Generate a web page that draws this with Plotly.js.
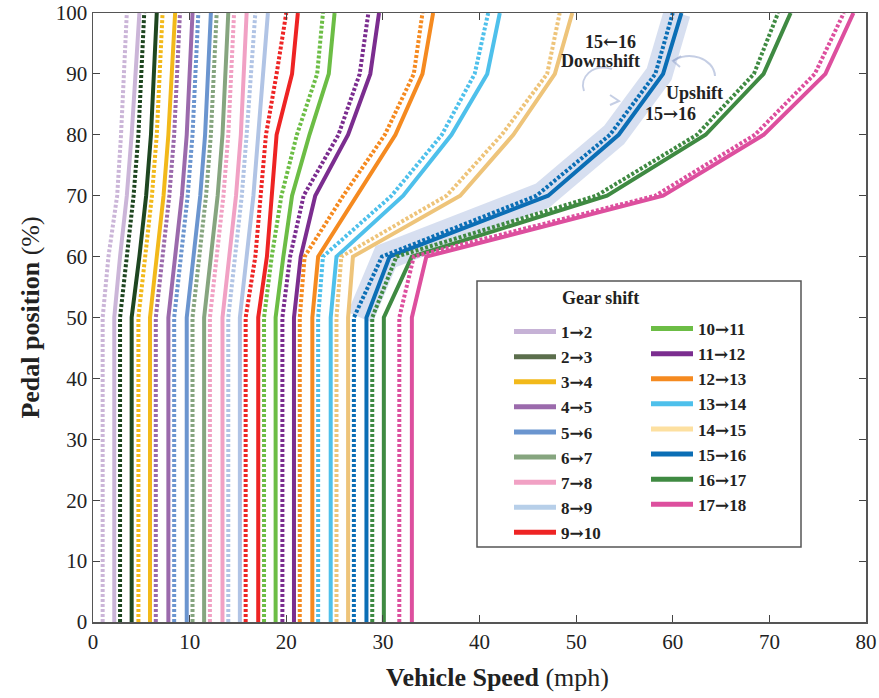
<!DOCTYPE html>
<html>
<head>
<meta charset="utf-8">
<script src="https://cdn.plot.ly/plotly-3.0.1.min.js"></script>
<style>body{margin:0;background:#fff}#chart{width:879px;height:698px}</style>
</head>
<body>
<div id="chart"></div>
<script>
// Pedal position breakpoints (%)
const pedal = [0, 50, 60, 70, 80, 90, 100];
const shiftFrom = [1,2,3,4,5,6,7,8,9,10,11,12,13,14,15,16,17];
const shiftTo   = [2,3,4,5,6,7,8,9,10,11,12,13,14,15,16,17,18];
// Upshift speeds (mph) at each pedal breakpoint (solid lines)
const upshift = [
  [2.2, 2.2, 2.8, 3.5, 4.0, 4.4, 4.8],
  [4.0, 4.0, 4.8, 5.5, 6.0, 6.3, 6.6],
  [5.9, 5.9, 6.6, 7.3, 7.8, 8.2, 8.5],
  [7.8, 7.8, 8.5, 9.2, 9.7, 10.0, 10.3],
  [9.7, 9.7, 10.4, 11.1, 11.6, 11.9, 12.2],
  [11.5, 11.5, 12.2, 12.9, 13.4, 13.7, 14.0],
  [13.4, 13.4, 14.1, 14.8, 15.3, 15.6, 15.9],
  [15.2, 15.2, 15.9, 16.6, 17.1, 17.6, 18.1],
  [17.1, 17.1, 18.0, 18.5, 19.0, 20.6, 21.2],
  [18.9, 18.9, 19.7, 20.6, 22.4, 24.4, 25.0],
  [20.8, 20.8, 21.5, 23.0, 26.4, 28.7, 29.6],
  [22.7, 22.7, 23.3, 27.3, 31.3, 34.1, 35.2],
  [24.6, 24.6, 25.2, 32.1, 37.1, 40.8, 42.1],
  [26.4, 26.4, 26.9, 38.0, 43.5, 47.8, 49.6],
  [28.3, 28.3, 30.7, 47.1, 54.4, 59.0, 60.9],
  [30.1, 30.1, 33.0, 53.2, 63.4, 69.4, 72.2],
  [33.0, 33.0, 34.5, 59.0, 69.4, 75.8, 78.7]
];
// Downshift speeds (mph) at each pedal breakpoint (dotted lines)
const downshift = [
  [1.0, 1.0, 1.6, 2.5, 2.9, 3.2, 3.5],
  [2.8, 2.8, 3.5, 4.2, 4.7, 5.0, 5.3],
  [4.7, 4.7, 5.4, 6.1, 6.6, 6.9, 7.2],
  [6.5, 6.5, 7.2, 7.9, 8.4, 8.7, 9.0],
  [8.4, 8.4, 9.1, 9.8, 10.3, 10.6, 10.9],
  [10.3, 10.3, 11.0, 11.7, 12.2, 12.5, 12.8],
  [12.1, 12.1, 12.8, 13.5, 14.0, 14.3, 14.6],
  [14.0, 14.0, 14.7, 15.4, 15.9, 16.4, 16.8],
  [15.8, 15.8, 16.8, 17.3, 17.9, 19.0, 20.0],
  [17.7, 17.7, 18.5, 19.5, 21.1, 23.2, 23.8],
  [19.6, 19.6, 20.4, 21.8, 25.4, 27.6, 28.5],
  [21.4, 21.4, 21.9, 25.9, 30.2, 33.2, 34.1],
  [23.3, 23.3, 23.8, 30.9, 36.1, 39.5, 40.9],
  [25.2, 25.2, 25.7, 36.6, 42.3, 47.0, 48.3],
  [27.0, 27.0, 29.9, 45.9, 53.5, 58.2, 60.0],
  [28.9, 28.9, 31.4, 52.1, 62.5, 68.4, 70.9],
  [31.7, 31.7, 33.2, 58.2, 68.5, 74.7, 77.7]
];
const highlightIndex = 14; // 15→16 highlighted

// Styles
const lineColors = ['#cbb5d8','#1e4620','#f2b91a','#9b6aac','#6b95cf','#86a57f','#f1a1c4','#b1c4e5','#ee2424',
                    '#6cbd45','#7b2d8f','#f58a20','#4ec0eb','#eec47a','#0b6eb5','#3f8a42','#dd4f9e'];
const legendColors = ['#c6b2d6','#5b6e4c','#f2b91a','#9b6aac','#6b95cf','#86a57f','#f1a1c4','#b7cfe9','#ee2424',
                      '#6cbd45','#7b2d8f','#f58a20','#4ec0eb','#fde0a0','#0b6eb5','#3f8a42','#dd4f9e'];
const FONT = 'Liberation Serif, Times New Roman, serif';
const RA = '<span style="font-family:DejaVu Serif">→</span>';
const LA = '<span style="font-family:DejaVu Serif">←</span>';
const shiftLabels = shiftFrom.map((f, i) => f + '→' + shiftTo[i]);
const shiftHtml = shiftFrom.map((f, i) => f + RA + shiftTo[i]);

const traces = [];
// highlight band behind 15→16
const bandIdx = pedal.map((p, i) => i).filter(i => pedal[i] >= 50);
traces.push({
  x: bandIdx.map(i => (upshift[highlightIndex][i] + downshift[highlightIndex][i]) / 2),
  y: bandIdx.map(i => pedal[i]),
  mode: 'lines', line: {color: 'rgba(175,192,226,0.5)', width: 27},
  showlegend: false, hoverinfo: 'skip', cliponaxis: false
});
for (let g = 0; g < shiftLabels.length; g++) {
  traces.push({
    x: downshift[g], y: pedal, mode: 'lines', name: shiftLabels[g] + ' down',
    line: {color: lineColors[g], width: 4, dash: '3px,2px'}, showlegend: false
  });
  traces.push({
    x: upshift[g], y: pedal, mode: 'lines', name: shiftLabels[g] + ' up',
    line: {color: lineColors[g], width: 4}, showlegend: false
  });
}
// legend entries
for (let g = 0; g < shiftLabels.length; g++) {
  traces.push({
    x: [null], y: [null], mode: 'lines', name: shiftHtml[g],
    line: {color: legendColors[g], width: 5},
    legend: g < 9 ? 'legend' : 'legend2', showlegend: true, hoverinfo: 'skip'
  });
}

const px2x = p => (p - 93) / 9.6625;
const py2y = p => (622 - p) / 6.09;

function cpath(cmds) {
  return cmds.map(c => c[0] + ' ' + c.slice(1).reduce((acc, v, i) => {
    if (i % 2 === 0) acc.push(px2x(v).toFixed(3)); else acc[acc.length - 1] += ',' + py2y(v).toFixed(3);
    return acc;
  }, []).join(' ')).join(' ');
}

const arrowColor = 'rgba(150,165,205,0.55)';
const shapes = [
  {type: 'rect', xref: 'paper', yref: 'paper', x0: (477-93)/773, x1: (801-93)/773,
   y0: (622-547)/609, y1: (622-281)/609, line: {color: '#555', width: 1.5}, fillcolor: 'rgba(0,0,0,0)'},
  {type: 'path', xref: 'x', yref: 'y', line: {color: arrowColor, width: 2},
   path: cpath([['M', 612, 69], ['C', 592, 63, 579, 78, 584, 91, 589, 103, 604, 106, 619, 101]])},
  {type: 'path', xref: 'x', yref: 'y', line: {color: arrowColor, width: 2},
   path: cpath([['M', 610, 95], ['L', 619, 101], ['L', 610, 105]])},
  {type: 'path', xref: 'x', yref: 'y', line: {color: arrowColor, width: 2},
   path: cpath([['M', 673, 61], ['C', 688, 50, 714, 58, 715, 76, 716, 88, 705, 95, 695, 96]])},
  {type: 'path', xref: 'x', yref: 'y', line: {color: arrowColor, width: 2},
   path: cpath([['M', 681, 56], ['L', 673, 61], ['L', 680, 67]])}
];

const annFont = {family: FONT, size: 18, color: '#222'};
const annotations = [
  {xref: 'x', yref: 'y', x: px2x(610), y: py2y(41.5), text: '<b>15' + LA + '16</b>', showarrow: false, font: annFont},
  {xref: 'x', yref: 'y', x: px2x(600), y: py2y(61), text: '<b>Downshift</b>', showarrow: false, font: annFont},
  {xref: 'x', yref: 'y', x: px2x(694), y: py2y(93), text: '<b>Upshift</b>', showarrow: false, font: annFont},
  {xref: 'x', yref: 'y', x: px2x(670), y: py2y(113), text: '<b>15' + RA + '16</b>', showarrow: false, font: annFont},
  {xref: 'paper', yref: 'paper', x: (641-93)/773, y: (622-298)/609, text: '<b>Gear shift</b>', showarrow: false,
   font: {family: FONT, size: 18, color: '#222'}},
  {xref: 'paper', yref: 'paper', x: (497-93)/773, y: (622-678)/609, yanchor: 'middle',
   text: '<b>Vehicle Speed</b> (mph)', showarrow: false, font: {family: FONT, size: 26, color: '#222'}}
];

const legendBase = {
  xanchor: 'left', yanchor: 'top', bgcolor: 'rgba(0,0,0,0)', borderwidth: 0,
  font: {family: FONT, size: 17, color: '#222', weight: 'bold'}, itemwidth: 42, tracegroupgap: 0,
  itemclick: false, itemdoubleclick: false
};

const layout = {
  width: 879, height: 698,
  margin: {l: 93, r: 13, t: 13, b: 76},
  paper_bgcolor: '#fff', plot_bgcolor: '#fff',
  font: {family: FONT, color: '#222'},
  xaxis: {
    range: [0, 80], dtick: 10, showgrid: false, zeroline: false,
    showline: true, linecolor: '#555', linewidth: 1.5, mirror: 'ticks',
    ticks: 'inside', ticklen: 7, tickcolor: '#444', tickwidth: 1,
    tickfont: {family: FONT, size: 21, color: '#222'}
  },
  yaxis: {
    range: [0, 100], dtick: 10, showgrid: false, zeroline: false,
    showline: true, linecolor: '#555', linewidth: 1.5, mirror: 'ticks',
    ticks: 'inside', ticklen: 7, tickcolor: '#444', tickwidth: 1,
    tickfont: {family: FONT, size: 21, color: '#222'},
    title: {text: '<b>Pedal position</b> (%)', font: {family: FONT, size: 26, color: '#222'}, standoff: 8}
  },
  legend: Object.assign({}, legendBase, {x: (509-93)/773, y: (622-314)/609}),
  legend2: Object.assign({}, legendBase, {x: (646-93)/773, y: (622-311)/609}),
  shapes: shapes,
  annotations: annotations
};

Plotly.newPlot('chart', traces, layout, {displayModeBar: false, staticPlot: true});
</script>
</body>
</html>
